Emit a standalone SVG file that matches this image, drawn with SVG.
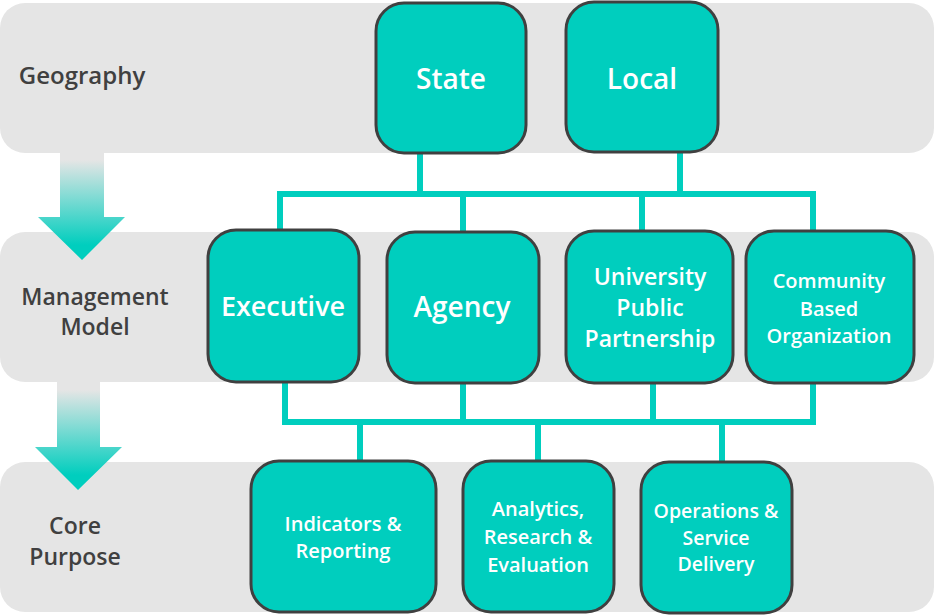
<svg xmlns="http://www.w3.org/2000/svg" width="935" height="615" viewBox="0 0 935 615">
  <style>
    .band { fill: #e5e5e5; }
    .node { fill: #00cebe; stroke: #404040; stroke-width: 3; }
    .lbl { font-family: "Open Sans", "Liberation Sans", sans-serif; font-weight: 600; fill: #404040; text-anchor: middle; }
    .nt { font-family: "Open Sans", "Liberation Sans", sans-serif; font-weight: 600; fill: #ffffff; text-anchor: middle; }
    .conn { stroke: #00cebe; stroke-width: 6; fill: none; stroke-linecap: square; }
  </style>
  <defs>
    <linearGradient id="g1" gradientUnits="userSpaceOnUse" x1="0" y1="160" x2="0" y2="245">
      <stop offset="0" stop-color="#e5e5e5"/>
      <stop offset="1" stop-color="#00cebe"/>
    </linearGradient>
    <linearGradient id="g2" gradientUnits="userSpaceOnUse" x1="0" y1="390" x2="0" y2="475">
      <stop offset="0" stop-color="#e5e5e5"/>
      <stop offset="1" stop-color="#00cebe"/>
    </linearGradient>
  </defs>

  <g id="bands">
    <rect class="band" x="0" y="3" width="934" height="150" rx="25"/>
    <rect class="band" x="0" y="232" width="934" height="150" rx="25"/>
    <rect class="band" x="0" y="462" width="934" height="150" rx="25"/>
  </g>

  <g id="arrows">
    <path d="M60 153 H104 V217 H125 L82 260 L38 217 H60 Z" fill="url(#g1)"/>
    <path d="M57 382 H100 V447 H122 L78 490 L35 447 H57 Z" fill="url(#g2)"/>
  </g>

  <g id="row-labels">
    <text class="lbl" x="82" y="84" font-size="24">Geography</text>
    <text class="lbl" x="95" y="305" font-size="23">Management</text>
    <text class="lbl" x="95" y="335" font-size="23">Model</text>
    <text class="lbl" x="75" y="534" font-size="23">Core</text>
    <text class="lbl" x="75" y="565" font-size="23">Purpose</text>
  </g>

  <g id="connectors">
    <path class="conn" d="M420 154 V194 M680 152 V194 M280 194 H813 M280 194 V229 M463 194 V231 M642 194 V230 M813 194 V230"/>
    <path class="conn" d="M285 382 V422 M463 383 V422 M653 383 V422 M813 383 V422 M285 422 H813 M360 422 V460 M538 422 V460 M722 422 V462"/>
  </g>

  <g id="state">
    <rect class="node" x="376" y="3" width="150" height="150" rx="28"/>
    <text class="nt" x="451" y="89" font-size="28">State</text>
  </g>
  <g id="local">
    <rect class="node" x="566" y="2" width="152" height="150" rx="28"/>
    <text class="nt" x="642" y="89" font-size="28">Local</text>
  </g>

  <g id="executive">
    <rect class="node" x="208" y="230" width="151" height="152" rx="28"/>
    <text class="nt" x="283" y="316" font-size="27">Executive</text>
  </g>
  <g id="agency">
    <rect class="node" x="387" y="232" width="152" height="151" rx="28"/>
    <text class="nt" x="462" y="317" font-size="28">Agency</text>
  </g>
  <g id="upp">
    <rect class="node" x="566" y="231" width="167" height="152" rx="28"/>
    <text class="nt" x="650" y="285" font-size="23">University</text>
    <text class="nt" x="650" y="316" font-size="23">Public</text>
    <text class="nt" x="650" y="347" font-size="23">Partnership</text>
  </g>
  <g id="cbo">
    <rect class="node" x="746" y="231" width="168" height="152" rx="28"/>
    <text class="nt" x="829" y="288" font-size="20">Community</text>
    <text class="nt" x="829" y="315.5" font-size="20">Based</text>
    <text class="nt" x="829" y="343" font-size="20">Organization</text>
  </g>

  <g id="indicators">
    <rect class="node" x="251" y="461" width="185" height="151" rx="28"/>
    <text class="nt" x="343" y="531" font-size="20">Indicators &amp;</text>
    <text class="nt" x="343" y="558" font-size="20">Reporting</text>
  </g>
  <g id="analytics">
    <rect class="node" x="463" y="461" width="151" height="151" rx="28"/>
    <text class="nt" x="538" y="516" font-size="20">Analytics,</text>
    <text class="nt" x="538" y="544" font-size="20">Research &amp;</text>
    <text class="nt" x="538" y="572" font-size="20">Evaluation</text>
  </g>
  <g id="operations">
    <rect class="node" x="641" y="462" width="151" height="151" rx="28"/>
    <text class="nt" x="716" y="518" font-size="19.5">Operations &amp;</text>
    <text class="nt" x="716" y="544.5" font-size="19.5">Service</text>
    <text class="nt" x="716" y="571" font-size="19.5">Delivery</text>
  </g>
</svg>
